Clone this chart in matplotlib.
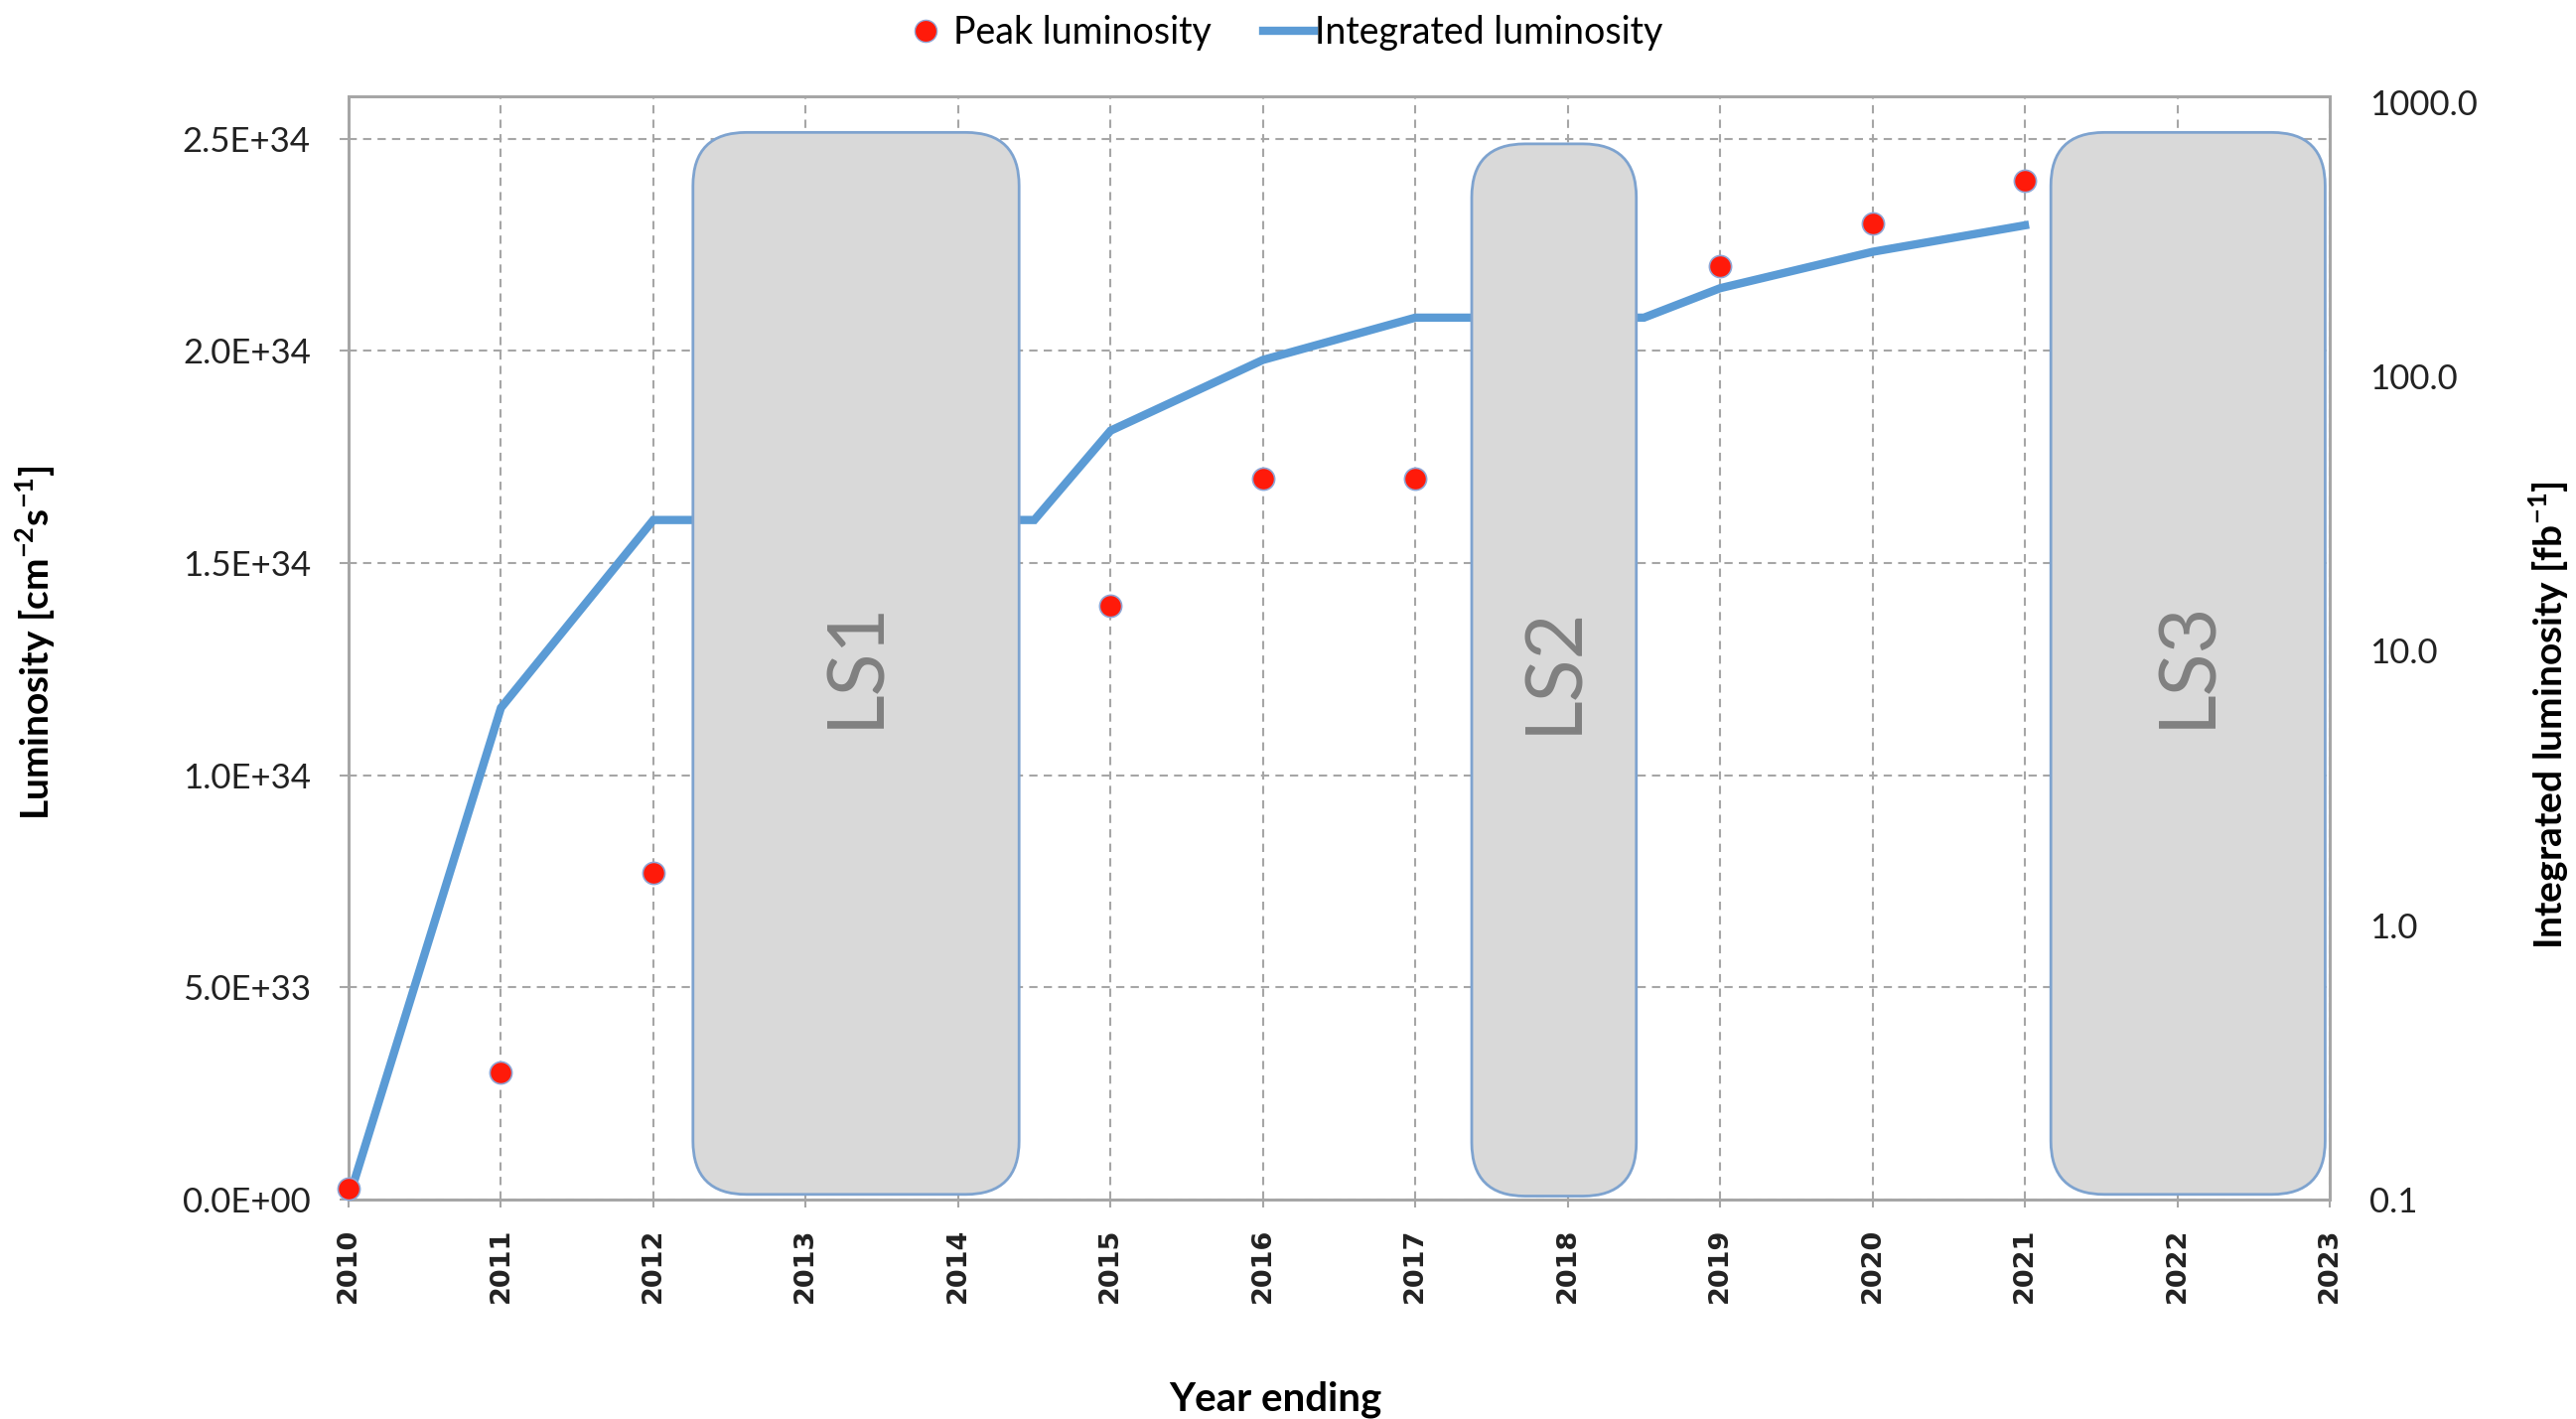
import matplotlib
matplotlib.use('Agg')
import matplotlib.pyplot as plt
from matplotlib.patches import FancyBboxPatch
from matplotlib.lines import Line2D
from matplotlib.ticker import FixedLocator, FuncFormatter, NullLocator


# ----------------------------------------------------------------------------------------
#                             DATA AREA

peak_years = [2010, 2011, 2012, 2015, 2016, 2017, 2019, 2020, 2021]
peak_lumi  = [2.5e32, 3.0e33, 7.7e33, 1.4e34, 1.7e34, 1.7e34, 2.2e34, 2.3e34, 2.4e34]

int_years  = [2010, 2011, 2012, 2014.5, 2015, 2016, 2017, 2018.5, 2019, 2020, 2021]
int_lumi   = [0.1, 6.2, 30.0, 30.0, 63.5, 115.0, 164.0, 164.0, 210.0, 285.0, 356.0]

# long shutdowns : name, start, end, bottom, top
shutdowns = [
    ('LS1', 2012.26, 2014.40, 0.012e34, 2.515e34),
    ('LS2', 2017.37, 2018.45, 0.008e34, 2.488e34),
    ('LS3', 2021.17, 2022.97, 0.012e34, 2.515e34),
]

year_ticks  = list(range(2010, 2024))
left_ticks  = [0, 0.5e34, 1.0e34, 1.5e34, 2.0e34, 2.5e34]
right_ticks = [0.1, 1, 10, 100, 1000]


# ----------------------------------------------------------------------------------------
#                             PLOTTING AREA

BLUE  = '#5b9bd5'
GRID  = '#a6a6a6'
TXT   = 'Lato'

fig = plt.figure(figsize=(25.94, 14.29), dpi=100)
ax = fig.add_axes([0.1353, 0.1547, 0.9044 - 0.1353, 0.9321 - 0.1547])
ax2 = ax.twinx()

# left axis : grid + scales
ax.set_xlim(2010, 2023)
ax.set_ylim(0, 2.6e34)
ax.xaxis.set_major_locator(FixedLocator(year_ticks))
ax.yaxis.set_major_locator(FixedLocator(left_ticks))
ax.yaxis.set_major_formatter(FuncFormatter(lambda v, p: f"{v:.1E}"))
ax.grid(True, color=GRID, linestyle=(0, (4, 3)), linewidth=1.5)
ax.set_axisbelow(True)

ax.tick_params(axis='y', length=6.5, width=1.5, color=GRID, pad=21,
               labelsize=25, labelfontfamily=TXT)
ax.tick_params(axis='x', length=6, width=1.5, color=GRID, pad=15,
               labelrotation=90, labelsize=19.5)
for lab in ax.get_xticklabels():
    lab.set_fontweight('bold')
    lab.set_family('DejaVu Sans')
    lab.set_color('#222222')
for lab in ax.get_yticklabels():
    lab.set_color('#222222')

# right axis : log
ax2.set_yscale('log')
ax2.set_ylim(0.1, 1051)
ax2.yaxis.set_major_locator(FixedLocator(right_ticks))
ax2.yaxis.set_minor_locator(NullLocator())
ax2.yaxis.set_major_formatter(FuncFormatter(lambda v, p: f"{v:.1f}"))
ax2.tick_params(axis='y', length=0, pad=29, labelsize=25, labelfontfamily=TXT,
                labelcolor='#222222')

for a in (ax, ax2):
    for s in a.spines.values():
        s.set_color(GRID)
        s.set_linewidth(2)

# integrated luminosity
ax2.plot(int_years, int_lumi, color=BLUE, linewidth=6, zorder=3,
         solid_joinstyle='miter')

# peak luminosity dots
ax2.plot(peak_years, peak_lumi, linestyle='none', marker='o', markersize=16,
         markerfacecolor='#ff1a0a', markeredgecolor='#8fa6d6', markeredgewidth=1.2,
         transform=ax.transData, zorder=4, clip_on=False)

# long shutdown boxes
for name, x0, x1, y0, y1 in shutdowns:
    box = FancyBboxPatch((x0, y0), x1 - x0, y1 - y0,
                         boxstyle='round,pad=0,rounding_size=0.35',
                         mutation_aspect=3.6e33,
                         facecolor='#d9d9d9', edgecolor='#7ea3cf', linewidth=2,
                         transform=ax.transData, zorder=5)
    ax2.add_patch(box)
    ax2.text((x0 + x1) / 2, (y0 + y1) / 2, name, transform=ax.transData,
             rotation=90, ha='center', va='center', fontsize=57,
             family=TXT, color='#808080', zorder=6)

ax2.set_ylim(0.1, 1051)

# axis labels
fig.text(0.0139, 0.547, r'Luminosity [cm$^{\mathregular{-2}}$s$^{\mathregular{-1}}$]',
         rotation=90, ha='center', va='center', fontsize=28, fontweight='bold',
         family=TXT)
fig.text(0.9896, 0.496, r'Integrated luminosity [fb$^{\mathregular{-1}}$]',
         rotation=90, ha='center', va='center', fontsize=28, fontweight='bold',
         family=TXT)
fig.text(0.495, 0.014, 'Year ending', ha='center', va='center', fontsize=29,
         fontweight='bold', family=TXT)

# legend
handles = [
    Line2D([], [], linestyle='none', marker='o', markersize=16,
           markerfacecolor='#ff1a0a', markeredgecolor='#8fa6d6'),
    Line2D([], [], color=BLUE, linewidth=6),
]
fig.legend(handles, ['Peak luminosity', 'Integrated luminosity'],
           loc='center left', bbox_to_anchor=(0.3497, 0.977), ncol=2,
           frameon=False, borderpad=0, borderaxespad=0, handlelength=1.35,
           handletextpad=0.05, columnspacing=1.4,
           prop={'family': TXT, 'size': 27})

fig.savefig('out.png', dpi=100)
